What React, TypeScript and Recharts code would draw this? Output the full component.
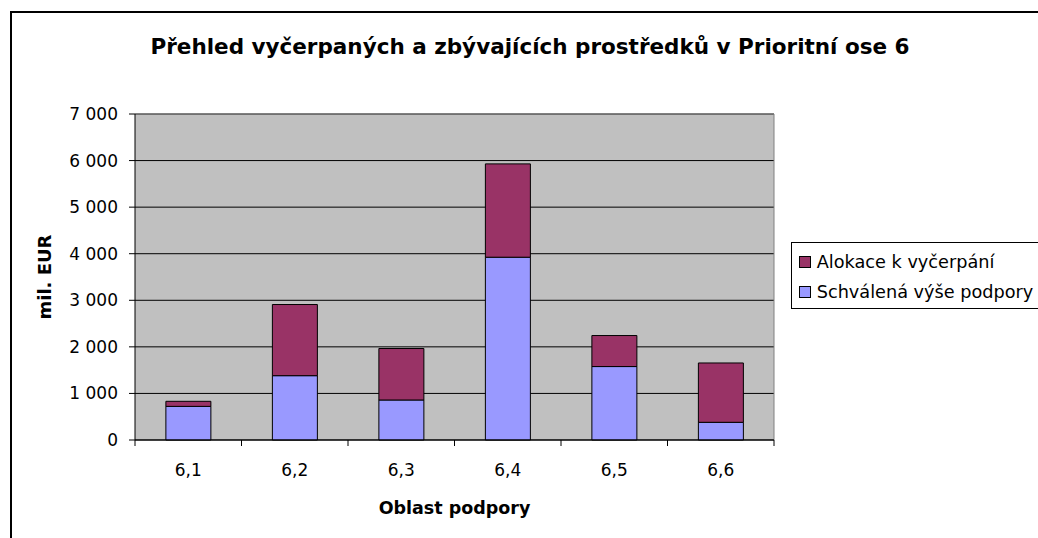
import { BarChart, Bar, XAxis, YAxis, CartesianGrid, Legend, ReferenceLine, Label } from "recharts"

// Oblasti podpory and values in mil. EUR
const categories = ["6,1", "6,2", "6,3", "6,4", "6,5", "6,6"]
const schvalena = [722, 1381, 859, 3925, 1577, 380]
const alokace = [109, 1528, 1106, 2004, 666, 1274]
const yTicks = [0, 1000, 2000, 3000, 4000, 5000, 6000, 7000]

const data = categories.map((c, i) => ({
  oblast: c,
  schvalena: schvalena[i],
  alokace: alokace[i],
}))

const font = '"DejaVu Sans", sans-serif'
const X_TICK_GAP = 24

const fmt = (v: number) => String(v).replace(/\B(?=(\d{3})+(?!\d))/g, " ")

// category label plus Excel-style tick marks on the category boundaries
function XTick(props: any) {
  const { x, y, payload, index, visibleTicksCount } = props
  const off = payload.offset ?? 0
  const axisY = y - X_TICK_GAP
  return (
    <g>
      <line x1={x - off} x2={x - off} y1={axisY} y2={axisY + 6} stroke="#000" />
      {index === visibleTicksCount - 1 && (
        <line x1={x + off} x2={x + off} y1={axisY} y2={axisY + 6} stroke="#000" />
      )}
      <text x={x} y={y} dy="0.71em" textAnchor="middle" fontFamily={font} fontSize={17} fill="#000">
        {payload.value}
      </text>
    </g>
  )
}

function LegendBox(props: any) {
  const items = props.payload ?? []
  return (
    <div
      style={{
        border: "1px solid #000",
        background: "#fff",
        padding: "4px 0 1px 7px",
        fontFamily: font,
        fontSize: 17.7,
        color: "#000",
        whiteSpace: "nowrap",
      }}
    >
      {items.map((it: any) => (
        <div key={it.value} style={{ display: "flex", alignItems: "center", height: 30 }}>
          <span
            style={{
              display: "inline-block",
              width: 12,
              height: 12,
              boxSizing: "border-box",
              border: "1px solid #000",
              background: it.color,
              marginRight: 6,
            }}
          />
          <span>{it.value}</span>
        </div>
      ))}
    </div>
  )
}

function YLabel(props: any) {
  const vb = props.viewBox
  const x = vb.x + 44
  const y = vb.y + vb.height / 2
  return (
    <text
      x={x}
      y={y}
      transform={`rotate(-90 ${x} ${y})`}
      textAnchor="middle"
      dominantBaseline="central"
      fontFamily={font}
      fontWeight="bold"
      fontSize={18}
      fill="#000"
    >
      mil. EUR
    </text>
  )
}

// right border of the plot area
const rightEdge = ({ offset }: any) => [offset.left + offset.width]

export default function App() {
  return (
    <div
      style={{
        position: "absolute",
        left: 0,
        top: 0,
        width: 1038,
        height: 538,
        overflow: "hidden",
        background: "#fff",
      }}
    >
      <div
        style={{
          position: "absolute",
          left: 10,
          top: 11,
          width: 1100,
          height: 600,
          borderTop: "2px solid #000",
          borderLeft: "2px solid #000",
        }}
      />
      <svg width={1038} height={80} style={{ position: "absolute", left: 0, top: 0 }}>
        <text x={530} y={54} textAnchor="middle" fontFamily={font} fontWeight="bold" fontSize={21.5} fill="#000">
          Přehled vyčerpaných a zbývajících prostředků v Prioritní ose 6
        </text>
      </svg>
      <div style={{ position: "absolute", left: 0, top: 0 }}>
        <BarChart
          width={1038}
          height={538}
          data={data}
          margin={{ top: 114, right: 264, left: 0, bottom: 0 }}
          barCategoryGap="29%"
        >
          <CartesianGrid vertical={false} stroke="#000" fill="#C0C0C0" fillOpacity={1} />
          <CartesianGrid horizontal={false} stroke="#808080" verticalCoordinatesGenerator={rightEdge} />
          <XAxis
            dataKey="oblast"
            height={98}
            stroke="#000"
            tickLine={false}
            tickSize={0}
            tickMargin={X_TICK_GAP}
            tick={<XTick />}
          >
            <Label
              value="Oblast podpory"
              position="insideBottom"
              offset={24}
              fontFamily={font}
              fontWeight="bold"
              fontSize={17.5}
              fill="#000"
            />
          </XAxis>
          <YAxis
            width={135}
            domain={[0, 7000]}
            ticks={yTicks}
            tickFormatter={fmt}
            tickSize={6}
            tickMargin={11}
            stroke="#000"
            tick={{ fontFamily: font, fontSize: 17, fill: "#000" }}
          >
            <Label content={<YLabel />} />
          </YAxis>
          <ReferenceLine y={7000} stroke="#808080" />
          <Legend
            layout="vertical"
            align="center"
            verticalAlign="middle"
            wrapperStyle={{ left: 790.7, top: 241.7, width: 260 }}
            content={<LegendBox />}
          />
          <Bar
            dataKey="schvalena"
            name="Schválená výše podpory"
            stackId="a"
            fill="#9999FF"
            stroke="#000"
            strokeWidth={1}
            isAnimationActive={false}
          />
          <Bar
            dataKey="alokace"
            name="Alokace k vyčerpání"
            stackId="a"
            fill="#993366"
            stroke="#000"
            strokeWidth={1}
            isAnimationActive={false}
          />
        </BarChart>
      </div>
    </div>
  )
}
